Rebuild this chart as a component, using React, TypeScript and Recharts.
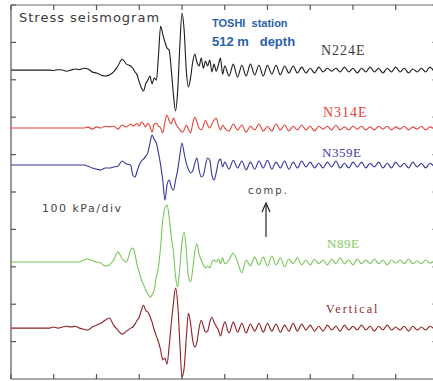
import { LineChart, Line, XAxis, YAxis } from 'recharts'

// sample clock: coarse before the onset, fine through the main burst, 1-step coda
const range = (from: number, to: number, step: number) => {
  const out: number[] = []
  for (let v = from; v <= to + 1e-9; v += step) out.push(v)
  return out
}
const times = [0, 4, ...range(8, 28, 1), ...range(28.5, 50, 0.5), ...range(51, 99, 1)]

// stress in kPa, one value per sample
const n224e = [
  0, 0, 0, 0, -1, 1, 0, -3, 0, 3, 1, 5, 3, -5, -8, -13, -16, -13, -5, 11, 29, 16, 11,
  5, -5, -13, -32, -48, -56, -37, -27, -16, -37, -21, -27, 40, 117, 96, 75, 59, 53, 0, -67,
  -109, -53, 67, 152, 107, 0, -45, -21, 21, 43, 21, 11, 32, 5, 24, 11, 27, -5, 16, -3, 13, 32,
  -11, 11,
  -16, 16, -19, 13, -16, 16, -13, 13, -16, 13, -11, 13, -13, 11, -8, 11, -8, 8, -8, 5, -8, 8,
  -5, 5, -3, 5, -5, 8, -5, 5, -8, 5, -5, 8, -5, 5, -8, 5, -5, 8, -5, 5, -8, 3, -5, 5, -5, 8, -5,
]
const n314e = [
  0, 0, 0, 0, 0, 0, 0, 0, 0, 0, 0, 0, 3, -3, 3, 0, 5, 3, 5, -3, 8, 3, 11,
  5, 8, 13, 5, 16, 11, 3, 13, 5, -11, 11, 13, 5, 0, -13, 16, 35, 19, 11, 27, 13, 3, -5, -11,
  -5, 8, -3, -13, 11, 29, 16, 0, -5, 5, 21, 8, 0, 11, 21, 27, 8, -5, 8, 0,
  -8, 11, -5, 8, -11, 5, -5, 11, -8, 5, -8, 11, -5, 8, -8, 5, -5, 8, -5, 5, -8, 5, -3, 5, -5,
  8, -5, 3, -5, 5, -3, 5, -5, 3, -5, 5, -3, 5, -5, 3, -3, 5, -5, 3, -3, 5, -5, 3, -3,
]
const n359e = [
  0, 0, 0, 0, 0, 0, 0, 0, 0, 0, 0, 0, -3, -8, -11, -13, -8, -8, -5, -3, 11, 3, 0,
  -27, -32, -16, 0, 11, 16, 24, 32, 59, 80, 69, 59, 32, 0, -40, -94, -53, -40, -59, -67, -40,
  -13, 27, 59, 32, 5, -11, -21, -16, 5, 19, -13, -32, -27, 0, 19, 13, -27, -40, -21, 8, 16, -5, 8,
  -11, 13, -8, 11, -13, 8, -11, 11, -8, 13, -11, 8, -8, 11, -11, 8, -8, 11, -5, 8, -8, 5, -8, 8,
  -5, 11, -8, 5, -8, 8, -5, 8, -8, 5, -5, 8, -8, 5, -8, 8, -5, 5, -8, 8, -5, 5, -8, 5, -5,
]
const n89e = [
  0, 0, 0, 0, 0, 0, 0, 0, 0, 0, 0, 5, 8, 3, 0, -3, -11, -8, 5, 27, 8, 0, 32,
  37, 21, -8, -27, -48, -61, -75, -85, -94, -88, -75, -40, -13, 40, 112, 144, 152, 120, 67, 27,
  -40, -67, -13, 53, 80, 32, -40, -53, -21, 27, 48, 21, 5, -8, -16, -11, -16, 0, 5, 0, 8, -5, 11, -5,
  5, 24, 0, -29, 5, -11, 13, -8, 13, -11, 16, -8, 11, -13, 8, -5, 11, -8, 5, -8, 8, -5, 5, -8,
  8, -5, 11, -5, 5, -8, 8, -5, 5, -5, 8, -5, 5, -8, 5, -3, 5, -5, 8, -5, 3, -5, 5, -3, 3,
]
const vertical = [
  0, 0, 0, 0, 3, 0, 3, 5, 3, 5, 0, -3, -5, 3, 8, 13, 21, 27, 8, -5, -16, -8, 0,
  3, 11, 21, 29, 48, 61, 48, 43, 32, 16, -5, -21, -37, -59, -85, -80, -96, -48, 13, 67, 107, 64,
  -40, -131, -107, -27, 40, 13, -32, -51, -37, 0, 21, 5, -11, -8, 16, 29, 16, 5, -5, -21, 0, 16,
  -13, 16, -11, 13, -13, 11, -8, 13, -11, 13, -8, 11, -11, 8, -8, 13, -8, 11, -5, 8, -8, 5, -8,
  8, -5, 5, -8, 8, -5, 5, -5, 8, -5, 5, -8, 5, -5, 8, -5, 3, -5, 5, -8, 5, -5, 3, -5, 5, -3,
]

const xTicks = [0, 10, 20, 30, 40, 50, 60, 70, 80, 90, 100]
const yTicks = [0, 100, 200, 300, 400, 500, 600, 700, 800, 900, 1000]

// plot box inside the chart surface
const CHART_W = 445
const CHART_H = 381
const MARGIN = { top: 5, right: 5.5, bottom: 1, left: 10 }
const PLOT_LEFT = MARGIN.left + 1
const PLOT_W = CHART_W - MARGIN.left - MARGIN.right - 2
const PLOT_TOP = MARGIN.top

// each component is drawn around its own zero line (kPa on the shared stack axis)
const traces = [
  { key: 'n224e', values: n224e, offset: 826, color: '#1c1c1c', yId: 'left' },
  { key: 'n314e', values: n314e, offset: 671, color: '#e2433b', yId: 'right' },
  { key: 'n359e', values: n359e, offset: 572, color: '#33379a', yId: 'left' },
  { key: 'n89e', values: n89e, offset: 313, color: '#78c65a', yId: 'left' },
  { key: 'vertical', values: vertical, offset: 136, color: '#8e1f22', yId: 'left' },
]

const rows = times.map((t, i) => {
  const row: Record<string, number> = { t }
  for (const tr of traces) row[tr.key] = tr.offset + tr.values[i]
  return row
})

const serif = '"Liberation Serif", "DejaVu Serif", serif'
const sans = '"DejaVu Sans", sans-serif'

// tick marks only, no labels
const NoLabel = () => <g />

export default function App() {
  const frame = { stroke: '#555', strokeWidth: 1.2 }
  return (
    <div
      style={{
        position: 'absolute',
        left: 0,
        top: 0,
        width: 433,
        height: 381,
        overflow: 'hidden',
        background: '#fff',
      }}
    >
      <LineChart width={CHART_W} height={CHART_H} data={rows} margin={MARGIN}>
        <XAxis
          dataKey="t"
          type="number"
          domain={[0, 100]}
          ticks={xTicks}
          height={1}
          tick={NoLabel}
          tickSize={-5}
          axisLine={frame}
          tickLine={frame}
        />
        <YAxis
          yAxisId="left"
          type="number"
          domain={[0, 1000]}
          ticks={yTicks}
          width={1}
          tick={NoLabel}
          tickSize={-5}
          axisLine={frame}
          tickLine={frame}
        />
        <YAxis
          yAxisId="right"
          orientation="right"
          type="number"
          domain={[0, 1000]}
          ticks={yTicks}
          width={1}
          tick={NoLabel}
          tickSize={-6}
          axisLine={frame}
          tickLine={frame}
        />
        {traces.map((tr) => (
          <Line
            key={tr.key}
            yAxisId={tr.yId}
            type="monotone"
            dataKey={tr.key}
            stroke={tr.color}
            strokeWidth={1.1}
            strokeLinejoin="round"
            dot={false}
            isAnimationActive={false}
          />
        ))}
      </LineChart>
      <svg
        width={433}
        height={381}
        style={{ position: 'absolute', left: 0, top: 0, pointerEvents: 'none' }}
      >
        {/* top edge of the frame with its inward ticks */}
        <line
          x1={PLOT_LEFT}
          y1={PLOT_TOP}
          x2={PLOT_LEFT + PLOT_W}
          y2={PLOT_TOP}
          stroke="#6a6a6a"
          strokeWidth={1.2}
        />
        {xTicks.map((v) => {
          const x = PLOT_LEFT + (v / 100) * PLOT_W
          return (
            <line key={v} x1={x} y1={PLOT_TOP} x2={x} y2={PLOT_TOP + 5} stroke="#555" strokeWidth={1.2} />
          )
        })}
        <text x={19} y={22} fontFamily={sans} fontSize={13} letterSpacing={1} fill="#3a3a3a">
          Stress seismogram
        </text>
        <text
          x={212}
          y={27}
          fontFamily='"Liberation Sans", sans-serif'
          fontWeight="bold"
          fontSize={11}
          fill="#2a62a8"
          style={{ whiteSpace: 'pre' }}
        >
          {'TOSHI  station'}
        </text>
        <text
          x={212}
          y={46}
          fontFamily='"Liberation Sans", sans-serif'
          fontWeight="bold"
          fontSize={13}
          fill="#2a62a8"
          style={{ whiteSpace: 'pre' }}
        >
          {'512 m   depth'}
        </text>
        <text x={321} y={55} fontFamily={serif} fontSize={14} letterSpacing={1} fill="#3c3c3c">
          N224E
        </text>
        <text x={323} y={117} fontFamily={serif} fontSize={14} letterSpacing={1} fill="#e0443c">
          N314E
        </text>
        <text x={322} y={157} fontFamily={serif} fontSize={13} letterSpacing={0.5} fill="#3c3c9c">
          N359E
        </text>
        <text x={248} y={194} fontFamily={sans} fontSize={10} letterSpacing={2} fill="#444">
          comp.
        </text>
        <line x1={266} y1={204} x2={266} y2={237} stroke="#222" strokeWidth={1.2} />
        <polyline points="262,212 266,203 270,212" fill="none" stroke="#222" strokeWidth={1.2} />
        <text x={42} y={212} fontFamily={sans} fontSize={11} letterSpacing={1.5} fill="#444">
          100 kPa/div
        </text>
        <text x={327} y={248} fontFamily={serif} fontSize={13} letterSpacing={0.5} fill="#7ccc5c">
          N89E
        </text>
        <text x={326} y={313} fontFamily={serif} fontSize={12} letterSpacing={2} fill="#8c2a2a">
          Vertical
        </text>
      </svg>
    </div>
  )
}
